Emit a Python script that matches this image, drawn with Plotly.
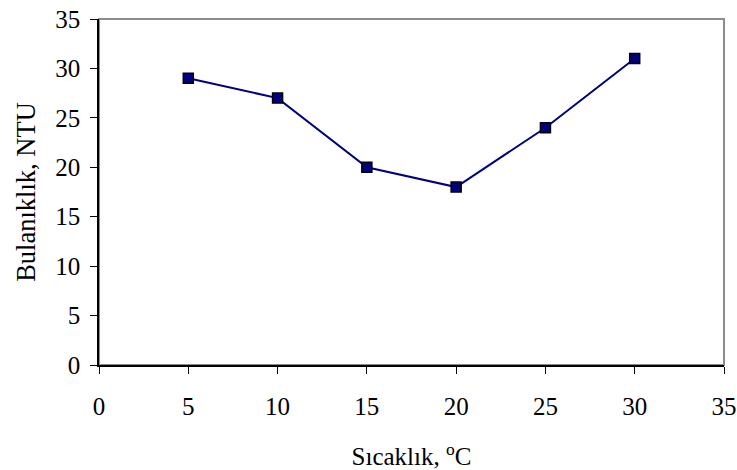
import plotly.graph_objects as go

temps = [5, 10, 15, 20, 25, 30]
turbidity = [29, 27, 20, 18, 24, 31]
x_ticks = [0, 5, 10, 15, 20, 25, 30, 35]
y_ticks = [0, 5, 10, 15, 20, 25, 30, 35]

font = "Liberation Serif"

fig = go.Figure()
fig.add_trace(go.Scatter(
    x=temps, y=turbidity, mode="lines+markers",
    line=dict(color="#000080", width=2),
    marker=dict(symbol="square", size=10, color="#000080",
                line=dict(color="black", width=1.5)),
    showlegend=False,
))

fig.add_shape(type="rect", xref="paper", yref="paper", x0=0, x1=1, y0=0, y1=1,
              line=dict(color="#8c8c8c", width=2), layer="below")

fig.update_layout(
    width=737, height=470,
    margin=dict(l=99, r=13, t=19, b=105),
    paper_bgcolor="white", plot_bgcolor="white",
    font=dict(family=font, size=25, color="black"),
    xaxis=dict(range=[0, 35], tickvals=x_ticks, showgrid=False, zeroline=False,
               showline=True, linecolor="black", linewidth=1.5,
               ticks="outside", ticklen=7, tickcolor="black", tickwidth=1,
               ticklabelstandoff=11, automargin=False, ticklabeloverflow="allow",
               tickfont=dict(family=font, size=25, color="black"),
               title=dict(text="Sıcaklık, <sup>o</sup>C",
                          font=dict(family=font, size=25, color="black"), standoff=30)),
    yaxis=dict(range=[0, 35], tickvals=y_ticks, showgrid=False, zeroline=False,
               showline=True, linecolor="black", linewidth=1.5,
               ticks="outside", ticklen=7, tickcolor="black", tickwidth=1,
               ticklabelstandoff=5, automargin=False, ticklabeloverflow="allow",
               tickfont=dict(family=font, size=25, color="black"),
               title=dict(text="Bulanıklık, NTU",
                          font=dict(family=font, size=26.5, color="black"), standoff=12)),
)

fig.write_html("out.html", config={"displayModeBar": False},
               post_script="document.body.style.margin='0';document.body.style.overflow='hidden';")
